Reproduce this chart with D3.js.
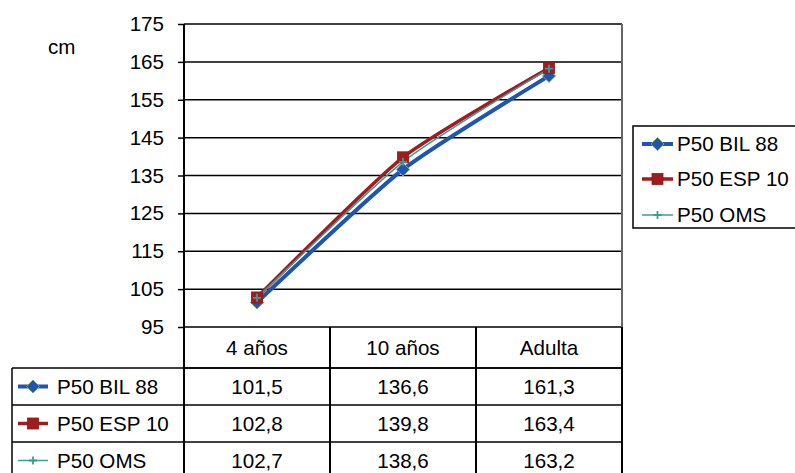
<!DOCTYPE html>
<html><head><meta charset="utf-8">
<script src="https://cdn.jsdelivr.net/npm/d3@7"></script>
<style>html,body{margin:0;padding:0;background:#fff;}svg{display:block;font-family:"Liberation Sans",Arial,sans-serif;}</style>
</head><body>
<svg id="c" width="795" height="473"></svg>
<script>
const categories = ["4 años", "10 años", "Adulta"];
const seriesNames = ["P50 BIL 88", "P50 ESP 10", "P50 OMS"];
const bil88 = [101.5, 136.6, 161.3];
const esp10 = [102.8, 139.8, 163.4];
const oms = [102.7, 138.6, 163.2];
const valueLabels = [["101,5","136,6","161,3"],["102,8","139,8","163,4"],["102,7","138,6","163,2"]];
const yTicks = [95,105,115,125,135,145,155,165,175];
const unitLabel = "cm";

const series = [
  {name: seriesNames[0], values: bil88, labels: valueLabels[0], color:"#1f55b0", width:4, marker:"diamond"},
  {name: seriesNames[1], values: esp10, labels: valueLabels[1], color:"#a01d1d", width:3.5, marker:"square"},
  {name: seriesNames[2], values: oms, labels: valueLabels[2], color:"#3a9c9c", width:1.5, marker:"plus"}
];

const svg = d3.select("#c");
const L = 184, R = 622, T = 24, B = 327;
const FS = 20.6;

const x = d3.scaleBand().domain(categories).range([L, R]);
const y = d3.scaleLinear().domain([95, 175]).range([B, T]);

// gridlines
svg.append("g").selectAll("line").data(yTicks).join("line")
  .attr("x1", L).attr("x2", R).attr("y1", d=>y(d)).attr("y2", d=>y(d))
  .attr("stroke", "#000").attr("stroke-width", 1.5);

// y axis
const ya = svg.append("g").attr("transform", `translate(${L},0)`)
  .call(d3.axisLeft(y).tickValues(yTicks).tickSize(6).tickPadding(14).tickFormat(d3.format("d")));
ya.select(".domain").remove();
ya.selectAll(".tick line").attr("stroke","#000").attr("stroke-width",1.5);
ya.selectAll(".tick text").attr("font-size", FS).attr("font-family","Liberation Sans, Arial, sans-serif").attr("fill","#000");

// axis line + right border
svg.append("line").attr("x1", L).attr("x2", L).attr("y1", T).attr("y2", 473).attr("stroke","#000").attr("stroke-width",2);
svg.append("line").attr("x1", R).attr("x2", R).attr("y1", T).attr("y2", B).attr("stroke","#666").attr("stroke-width",2);

svg.append("text").attr("x", 48).attr("y", 54).attr("font-size", FS).text(unitLabel);

// lines
const line = d3.line().x((d,i)=>x(categories[i]) + x.bandwidth()/2).y(d=>y(d)).curve(d3.curveCardinal.tension(0.45));

function drawMarker(g, type, cx, cy, color) {
  if (type === "diamond") {
    g.append("path").attr("d", `M${cx},${cy-6.5}L${cx+6.5},${cy}L${cx},${cy+6.5}L${cx-6.5},${cy}Z`)
      .attr("fill", color).attr("stroke","#79a35a").attr("stroke-width",1);
  } else if (type === "square") {
    g.append("rect").attr("x", cx-5.5).attr("y", cy-5.5).attr("width", 11).attr("height", 11)
      .attr("fill", color).attr("stroke", "#8c1a1a").attr("stroke-width", 0.8);
  } else {
    g.append("path").attr("d", `M${cx-4},${cy}H${cx+4}M${cx},${cy-4}V${cy+4}`)
      .attr("stroke", color).attr("stroke-width", 1.8).attr("fill","none");
  }
}

const plot = svg.append("g");
series.forEach(s => {
  plot.append("path").datum(s.values).attr("d", line).attr("fill","none")
    .attr("stroke", s.color).attr("stroke-width", s.width);
});
series.forEach(s => {
  s.values.forEach((v,i) => drawMarker(plot, s.marker, x(categories[i]) + x.bandwidth()/2, y(v), s.color));
});

// legend
const lg = svg.append("g");
lg.append("rect").attr("x", 633).attr("y", 126).attr("width", 170).attr("height", 102)
  .attr("fill","#fff").attr("stroke","#000").attr("stroke-width",1.5);
const legY = [144, 179, 215];
series.forEach((s,i) => {
  lg.append("line").attr("x1", 642).attr("x2", 673).attr("y1", legY[i]).attr("y2", legY[i])
    .attr("stroke", s.color).attr("stroke-width", s.width);
  drawMarker(lg, s.marker, 657.5, legY[i], s.color);
  lg.append("text").attr("x", 677).attr("y", legY[i] + 7).attr("font-size", FS).text(s.name);
});

// data table
const tb = svg.append("g");
const rowTop = [327, 368, 405, 442];
const rowBot = [368, 405, 442, 479];
const tableLeft = 12;
tb.append("line").attr("x1", L).attr("x2", R).attr("y1", 368).attr("y2", 368).attr("stroke","#000").attr("stroke-width",1.5);
[368, 405, 442].forEach(yy => {
  tb.append("line").attr("x1", tableLeft).attr("x2", R).attr("y1", yy).attr("y2", yy).attr("stroke","#000").attr("stroke-width",1.5);
});
tb.append("line").attr("x1", tableLeft).attr("x2", tableLeft).attr("y1", 368).attr("y2", 479).attr("stroke","#000").attr("stroke-width",1.5);
categories.forEach((c,i) => {
  const xr = x(c) + x.bandwidth();
  tb.append("line").attr("x1", xr).attr("x2", xr).attr("y1", 327).attr("y2", 479).attr("stroke","#000").attr("stroke-width",2);
  tb.append("text").attr("x", x(c) + x.bandwidth()/2).attr("y", 355).attr("text-anchor","middle").attr("font-size", FS).text(c);
});
series.forEach((s,r) => {
  const cy = (rowTop[r+1] + rowBot[r+1]) / 2;
  tb.append("line").attr("x1", 18).attr("x2", 48).attr("y1", cy).attr("y2", cy)
    .attr("stroke", s.color).attr("stroke-width", s.width);
  drawMarker(tb, s.marker, 33, cy, s.color);
  tb.append("text").attr("x", 57).attr("y", cy + 7).attr("font-size", FS).text(s.name);
  s.labels.forEach((lab,i) => {
    tb.append("text").attr("x", x(categories[i]) + x.bandwidth()/2).attr("y", cy + 7)
      .attr("text-anchor","middle").attr("font-size", FS).text(lab);
  });
});
</script>
</body></html>
